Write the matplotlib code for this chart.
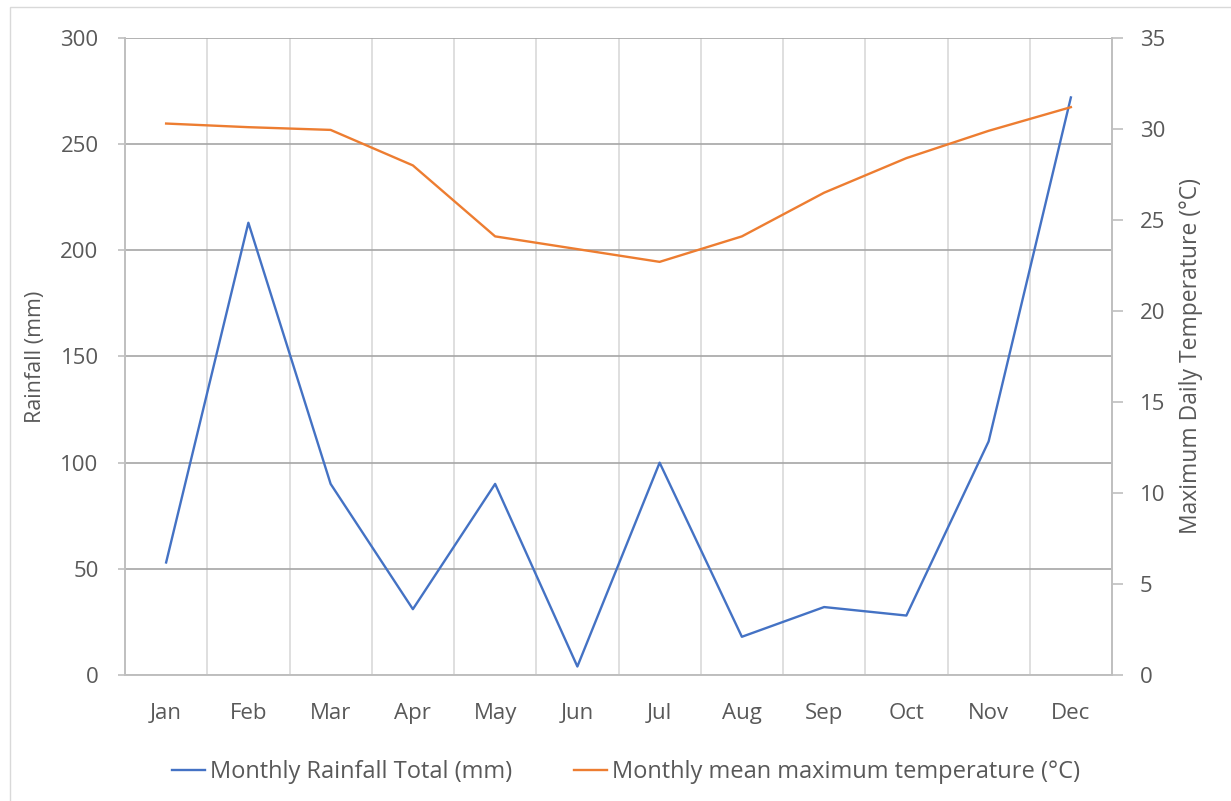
import matplotlib.pyplot as plt
from matplotlib.patches import Rectangle

plt.rcParams['font.family'] = ['Open Sans', 'DejaVu Sans']

months = ["Jan", "Feb", "Mar", "Apr", "May", "Jun",
          "Jul", "Aug", "Sep", "Oct", "Nov", "Dec"]
rainfall_mm = [53, 213, 90, 31, 90, 4, 100, 18, 32, 28, 110, 272]
max_temp_c = [30.3, 30.1, 29.95, 28.0, 24.1, 23.4, 22.7, 24.1, 26.5, 28.4, 29.9, 31.2]

rain_color = "#4472C4"
temp_color = "#ED7D31"
text_color = "#595959"

fig = plt.figure(figsize=(12.31, 8.01), dpi=100)
ax = fig.add_axes([125 / 1231, 1 - 675 / 801, 987 / 1231, 637 / 801])
ax_t = ax.twinx()

# outer chart frame
fig.patches.append(Rectangle((10 / 1231, -0.1), 1.2, 1 - 7 / 801 + 0.1,
                             transform=fig.transFigure, fill=False,
                             edgecolor="#d9d9d9", linewidth=1))

x = list(range(len(months)))
l1, = ax.plot(x, rainfall_mm, color=rain_color, linewidth=1.7,
              label="Monthly Rainfall Total (mm)", zorder=3)
l2, = ax_t.plot(x, max_temp_c, color=temp_color, linewidth=1.7,
                label="Monthly mean maximum temperature (°C)", zorder=3)

ax.set_xlim(-0.5, 11.5)
ax.set_ylim(0, 300)
ax.set_yticks(range(0, 301, 50))
ax_t.set_ylim(0, 35)
ax_t.set_yticks(range(0, 36, 5))

ax.set_xticks(x)
ax.set_xticklabels(months)
ax.set_xticks([i + 0.5 for i in range(11)], minor=True)

# gridlines: darker horizontals, lighter verticals between categories
ax.grid(axis="y", which="major", color="#a6a6a6", linewidth=1.2)
ax.grid(axis="x", which="minor", color="#d9d9d9", linewidth=1.2)
ax.set_axisbelow(True)

for a in (ax, ax_t):
    a.spines["top"].set_visible(False)
    for side in ("left", "bottom", "right"):
        a.spines[side].set_color("#bfbfbf")
        a.spines[side].set_linewidth(1.2)

ax.tick_params(axis="x", which="both", length=0, labelsize=16, colors=text_color, pad=20)
ax.tick_params(axis="y", length=5, width=1.2, color="#bfbfbf", labelsize=16,
               labelcolor=text_color, pad=14)
ax_t.tick_params(axis="y", length=8, width=1.2, color="#bfbfbf", labelsize=16,
                 labelcolor=text_color, pad=12)

ax.set_ylabel("Rainfall (mm)", fontsize=15.5, color=text_color, labelpad=10)
ax_t.set_ylabel("Maximum Daily Temperature (°C)", fontsize=16.5, color=text_color,
                labelpad=10)

fig.legend([l1, l2], [l1.get_label(), l2.get_label()], loc="center",
           bbox_to_anchor=(626 / 1231, 1 - 772 / 801), ncol=2, frameon=False,
           fontsize=17, labelcolor=text_color, handlelength=1.4,
           handletextpad=0.2, columnspacing=2.65)

fig.savefig("out.png", dpi=100)
